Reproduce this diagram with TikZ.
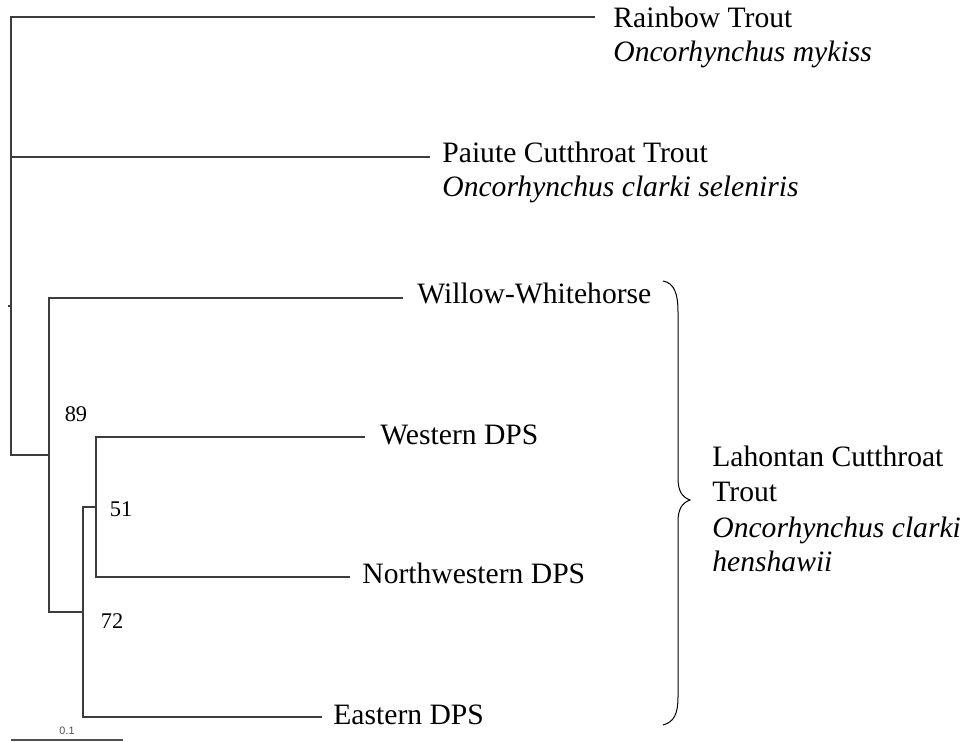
\documentclass[tikz,border=0pt]{standalone}
\usepackage{fontspec}
\setmainfont{Liberation Serif}
\newfontfamily\barfont{Liberation Sans}
\usepackage{xcolor}
\definecolor{branchgray}{RGB}{60,60,60}
\definecolor{scalegray}{RGB}{80,80,80}

\begin{document}
\begin{tikzpicture}[x=0.5pt, y=-0.5pt,
    branch/.style={draw=branchgray, line width=0.7pt},
    taxon/.style={anchor=base west, inner sep=0pt, font=\fontsize{14.8}{17}\selectfont},
    boot/.style={anchor=base, inner sep=0pt, font=\fontsize{11.2}{13}\selectfont}]
  \useasboundingbox (0,0) rectangle (965,742);
  % internal nodes
  \coordinate (root) at (11,306);
  \coordinate (stub) at (8,306);
  \coordinate (n89) at (49,455);
  \coordinate (n72) at (83,612);
  \coordinate (n51) at (96,507);
  % branch tips
  \coordinate (tRain) at (595,17);
  \coordinate (tPai) at (430,157);
  \coordinate (tWil) at (403,298);
  \coordinate (tWes) at (365,437);
  \coordinate (tNw) at (350,577);
  \coordinate (tEas) at (322,717);

  \draw[branch] (root) -- (stub);
  \draw[branch] (root) |- (tRain);
  \draw[branch] (root) |- (tPai);
  \draw[branch] (root) |- (n89);
  \draw[branch] (n89) |- (tWil);
  \draw[branch] (n89) |- (n72);
  \draw[branch] (n72) |- (n51);
  \draw[branch] (n72) |- (tEas);
  \draw[branch] (n51) |- (tWes);
  \draw[branch] (n51) |- (tNw);

  % taxa
  \node[taxon] (rain) at (613,28) {Rainbow Trout};
  \node[taxon] (rainsp) at (613,62) {\itshape Oncorhynchus mykiss};
  \node[taxon] (pai) at (442,163) {Paiute Cutthroat Trout};
  \node[taxon] (paisp) at (442,197) {\itshape Oncorhynchus clarki seleniris};
  \node[taxon] (wil) at (417,304) {Willow-Whitehorse};
  \node[taxon] (wes) at (380,445) {Western DPS};
  \node[taxon] (nw) at (362,584) {Northwestern DPS};
  \node[taxon] (eas) at (333,725) {Eastern DPS};

  % bootstrap values
  \node[boot] (b89) at (76,422) {89};
  \node[boot] (b51) at (121,517) {51};
  \node[boot] (b72) at (112,629) {72};

  % brace and group
  \draw[black, line width=0.5pt] (663,281) .. controls (674,283) and (678,293) .. (678,312)
    -- (678,478) .. controls (678,491) and (682,497) .. (690,500)
    .. controls (682,503) and (678,509) .. (678,522)
    -- (678,697) .. controls (678,714) and (674,722) .. (663,725);
  \node[taxon] (lct1) at (712,467) {Lahontan Cutthroat};
  \node[taxon] (lct2) at (712,502) {Trout};
  \node[taxon] (lct3) at (712,538) {\itshape Oncorhynchus clarki};
  \node[taxon] (lct4) at (712,572) {\itshape henshawii};

  % scale bar
  \coordinate (sbL) at (11,740);
  \coordinate (sbR) at (123,740);
  \draw[scalegray, line width=0.6pt] (sbL) -- (sbR);
  \node[anchor=base, inner sep=0pt, text=scalegray, font=\barfont\fontsize{5.4}{6}\selectfont] (sblab) at (67,735) {0.1};
\end{tikzpicture}
\end{document}
